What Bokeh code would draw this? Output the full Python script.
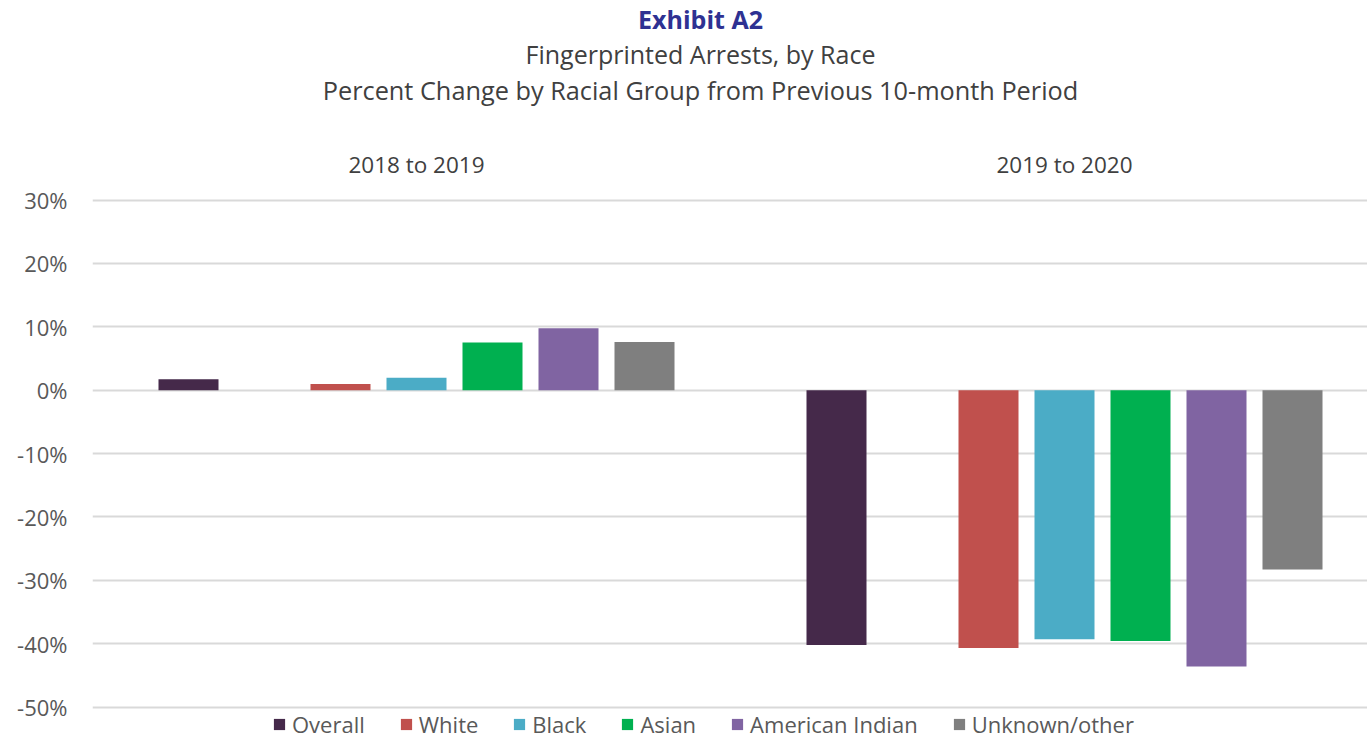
from bokeh.plotting import figure
from bokeh.models import (ColumnDataSource, FixedTicker, Legend, LegendItem, Label,
                          Range1d, PrintfTickFormatter)
from bokeh.core.properties import value
from bokeh.embed import file_html
from bokeh.resources import INLINE

# ---- data ----
periods = ["2018 to 2019", "2019 to 2020"]
races = ["Overall", "White", "Black", "Asian", "American Indian", "Unknown/other"]
change_2018_2019 = [1.7, 0.95, 1.95, 7.5, 9.75, 7.6]
change_2019_2020 = [-40.2, -40.7, -39.3, -39.6, -43.6, -28.3]
colors = ["#45294A", "#C0504D", "#4BACC6", "#00B050", "#8064A2", "#7F7F7F"]
y_ticks = [-50, -40, -30, -20, -10, 0, 10, 20, 30]

title_lines = ["Exhibit A2",
               "Fingerprinted Arrests, by Race",
               "Percent Change by Racial Group from Previous 10-month Period"]

FONT = "Open Sans"
TXT = "#404040"

# ---- layout (pixels) ----
W, H = 1367, 739
LEFT, TOP = 92, 199.5             # left edge of plot area, pixel row of the 30% gridline
PX_PER_UNIT = 507 / 80.0          # 30% .. -50% spans 507 px
GROUP_PX = 648.0
SLOT = 76 / GROUP_PX
BAR_W = 60 / GROUP_PX
TITLE_CX = 700                    # horizontal centre of titles
title_anchor = [18.5, 53.5, 89]   # pixel row of each title's anchor
title_sizes = ["25px", "25px", "25.3px"]
title_styles = ["bold", "normal", "normal"]
title_colors = ["#2E3192", TXT, TXT]
GROUP_ANCHOR = 163.5


def ydata(py):
    return 30 + (TOP - py) / PX_PER_UNIT


def xdata(px):
    return (px - LEFT) / GROUP_PX


group_centers = [g + 0.5 for g in range(len(periods))]

p = figure(width=W, height=H, output_backend="svg", toolbar_location=None,
           x_axis_location=None,
           x_range=Range1d(0, xdata(W)), y_range=Range1d(ydata(H), ydata(0)),
           min_border_left=LEFT, min_border_right=0, min_border_bottom=0, min_border_top=0)
p.outline_line_color = None
p.background_fill_color = "white"
p.border_fill_color = "white"

values = [change_2018_2019, change_2019_2020]
items = []
for i, race in enumerate(races):
    slot = i + (1 if i > 0 else 0)
    xs = [group_centers[g] + (slot - 3) * SLOT for g in range(len(periods))]
    tops = [values[g][i] for g in range(len(periods))]
    src = ColumnDataSource(dict(x=xs, top=tops))
    r = p.vbar(x="x", top="top", bottom=0, width=BAR_W, source=src,
               fill_color=colors[i], line_color=None)
    items.append(LegendItem(label=race, renderers=[r]))

# y axis
p.yaxis.ticker = FixedTicker(ticks=y_ticks)
p.yaxis.formatter = PrintfTickFormatter(format="%d%%")
p.yaxis.axis_line_color = None
p.yaxis.major_tick_line_color = None
p.yaxis.minor_tick_line_color = None
p.yaxis.major_label_text_font = FONT
p.yaxis.major_label_text_font_size = "22px"
p.yaxis.major_label_text_color = "#595959"
p.yaxis.major_label_standoff = 19
p.ygrid.ticker = FixedTicker(ticks=y_ticks)
p.ygrid.grid_line_color = "#D9D9D9"
p.ygrid.grid_line_width = 2
p.xgrid.visible = False

# group (period) labels
gsrc = ColumnDataSource(dict(x=group_centers, y=[ydata(GROUP_ANCHOR)] * len(periods), text=periods))
p.text(x="x", y="y", text="text", source=gsrc, text_align="center", text_baseline="alphabetic",
       text_font=value(FONT), text_font_size="22.5px", text_color=TXT)

# titles
for t, b, s, st, c in zip(title_lines, title_anchor, title_sizes, title_styles, title_colors):
    p.add_layout(Label(x=xdata(TITLE_CX), y=ydata(b), text=t, text_align="center",
                       text_baseline="alphabetic", text_font=FONT, text_font_size=s,
                       text_font_style=st, text_color=c))

legend = Legend(items=items, orientation="horizontal", location=(180, 0),
                background_fill_alpha=0, border_line_color=None,
                label_text_font=FONT, label_text_font_size="22px", label_text_color="#595959",
                glyph_width=14, glyph_height=14, label_standoff=6, spacing=34,
                padding=0, margin=0)
p.add_layout(legend, "center")

open("out.html", "w").write(file_html(p, INLINE))
